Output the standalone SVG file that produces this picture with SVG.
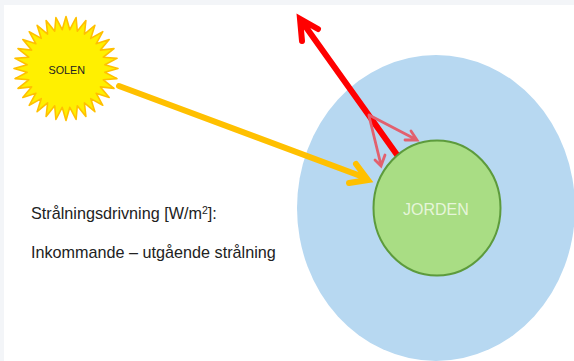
<svg xmlns="http://www.w3.org/2000/svg" width="574" height="361" viewBox="0 0 574 361">
  <style>
    text { font-family: "Liberation Sans", Arial, sans-serif; }
    .label { fill: #222; font-size: 16.2px; }
    .ray { fill: none; stroke-linecap: round; stroke-linejoin: miter; }
    .in { stroke: #ffc000; stroke-width: 6; }
    .out { stroke: #ff0000; stroke-width: 6; }
    .back { stroke: #e2606e; stroke-width: 2.8; }
  </style>
  <!-- slide page and its pale margin -->
  <rect width="574" height="361" fill="#f3f5f8"/>
  <rect x="4" y="5" width="570" height="356" fill="#ffffff"/>

  <g id="atmosfar">
    <ellipse cx="436" cy="208" rx="139" ry="153" fill="#b7d8f1"/>
  </g>

  <g id="connectors">
    <!-- incoming sunlight -->
    <path class="ray in" d="M119 86 L366 178 M356 164 L368 180 L349 183"/>
    <!-- outgoing radiation, its foot hidden behind the globe -->
    <path class="ray out" d="M400 159 L303 23 M318 29 L300 19 L302 41"/>
    <!-- radiation sent back towards the ground -->
    <path class="ray back" d="M369 115 L415 139 M411 131 L417 140 L405 140"/>
    <path class="ray back" d="M369 116 L381 165 M375 160 L381 166 L385 155"/>
  </g>

  <g id="jorden">
    <ellipse cx="437" cy="208" rx="63.5" ry="67.5" fill="#a9dd84" stroke="#5d9b3c" stroke-width="2"/>
    <text x="403" y="215" font-size="16" fill="#e6f5da">JORDEN</text>
  </g>

  <g id="solen">
    <polygon fill="#fff000" stroke="#ffc000" stroke-width="1.6" stroke-linejoin="round" points="118,68.5 104.8,72.3 117,78.6 103.3,79.8 114,88.4 100.4,86.9 109.2,97.4 96.1,93.2 102.8,105.3 90.7,98.6 94.9,111.7 84.4,102.9 85.9,116.5 77.3,105.8 76.1,119.5 69.8,107.3 66,120.5 62.2,107.3 55.9,119.5 54.7,105.8 46.1,116.5 47.6,102.9 37.1,111.7 41.3,98.6 29.2,105.3 35.9,93.2 22.8,97.4 31.6,86.9 18,88.4 28.7,79.8 15,78.6 27.2,72.3 14,68.5 27.2,64.7 15,58.4 28.7,57.2 18,48.6 31.6,50.1 22.8,39.6 35.9,43.8 29.2,31.7 41.3,38.4 37.1,25.3 47.6,34.1 46.1,20.5 54.7,31.2 55.9,17.5 62.2,29.7 66,16.5 69.8,29.7 76.1,17.5 77.3,31.2 85.9,20.5 84.4,34.1 94.9,25.3 90.7,38.4 102.8,31.7 96.1,43.8 109.2,39.6 100.4,50.1 114,48.6 103.3,57.2 117,58.4 104.8,64.7"/>
    <text x="48.5" y="74" font-size="10.8" fill="#222">SOLEN</text>
  </g>

  <g id="text">
    <text class="label" x="31" y="219">Strålningsdrivning [W/m<tspan font-size="10.5" dy="-5.5">2</tspan><tspan dy="5.5">]:</tspan></text>
    <text class="label" x="31" y="258">Inkommande – utgående strålning</text>
  </g>
</svg>
